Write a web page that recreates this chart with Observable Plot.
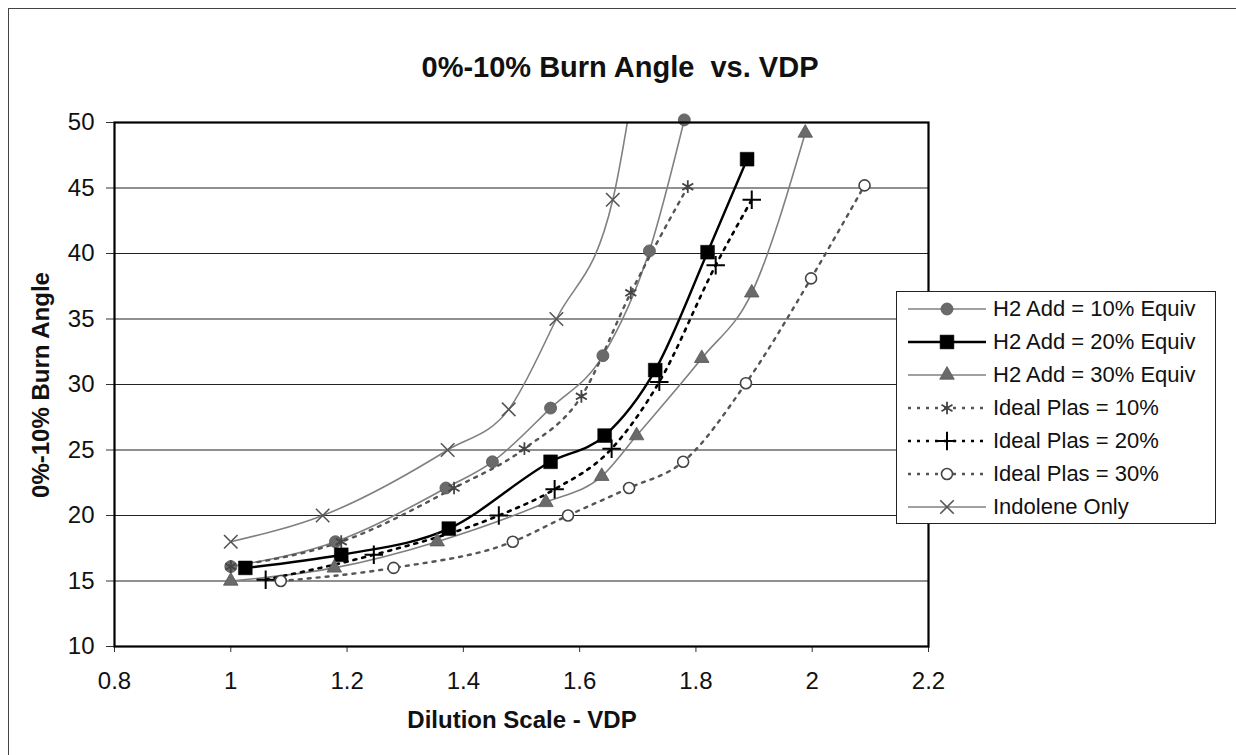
<!DOCTYPE html>
<html>
<head>
<meta charset="utf-8">
<script src="https://cdn.jsdelivr.net/npm/d3@7"></script>
<script src="https://cdn.jsdelivr.net/npm/@observablehq/plot@0.6"></script>
<style>
  html, body { margin: 0; padding: 0; background: #fff; }
  #wrap { position: relative; width: 1236px; height: 755px; overflow: hidden; font-family: "Liberation Sans", Arial, sans-serif; }
  #border { position: absolute; left: 8px; top: 8px; width: 1240px; height: 760px; border-left: 1.5px solid #444; border-top: 1.5px solid #444; }
  #title { position: absolute; left: 320px; width: 600px; top: 50px; line-height: 34px; text-align: center; font-weight: bold; font-size: 29px; color: #111; }
  #ylab { position: absolute; left: 41px; top: 385px; transform: translate(-50%, -50%) rotate(-90deg); white-space: nowrap; font-weight: bold; font-size: 24px; color: #111; }
  #xlab { position: absolute; left: 222px; width: 600px; top: 705px; line-height: 30px; text-align: center; font-weight: bold; font-size: 24px; color: #111; }
  #legend { position: absolute; left: 896px; top: 291px; width: 320px; box-sizing: border-box; border: 1.5px solid #222; background: #fff; padding: 0; }
  .row { display: flex; align-items: center; height: 33px; font-size: 22px; color: #111; white-space: nowrap; }
  .row svg { margin-left: 10px; margin-right: 6px; }
  #chart { position: absolute; left: 0; top: 0; }
</style>
</head>
<body>
<div id="wrap">
  <div id="border"></div>
  <div id="chart"></div>
  <div id="title">0%-10% Burn Angle&nbsp; vs. VDP</div>
  <div id="ylab">0%-10% Burn Angle</div>
  <div id="xlab">Dilution Scale - VDP</div>
  <div id="legend"></div>
</div>
<script>
// ---- data ----
const xTicks = [0.8, 1, 1.2, 1.4, 1.6, 1.8, 2, 2.2];
const yTicks = [10, 15, 20, 25, 30, 35, 40, 45, 50];

const xH10 = [1.0, 1.18, 1.37, 1.45, 1.55, 1.64, 1.72, 1.78];
const yH10 = [16.1, 18.0, 22.1, 24.1, 28.2, 32.2, 40.2, 50.2];

const xH20 = [1.025, 1.19, 1.375, 1.55, 1.643, 1.73, 1.82, 1.888];
const yH20 = [16.0, 17.0, 19.0, 24.1, 26.1, 31.1, 40.1, 47.2];

const xH30 = [1.0, 1.178, 1.355, 1.542, 1.638, 1.698, 1.81, 1.896, 1.988];
const yH30 = [15.0, 16.0, 18.0, 21.0, 23.0, 26.1, 32.0, 37.0, 49.2];

const xP10 = [1.0, 1.19, 1.384, 1.505, 1.603, 1.688, 1.786];
const yP10 = [16.1, 18.0, 22.1, 25.1, 29.1, 37.0, 45.1];

const xP20 = [1.06, 1.246, 1.461, 1.557, 1.655, 1.737, 1.834, 1.896];
const yP20 = [15.1, 17.0, 20.0, 22.0, 25.1, 30.2, 39.1, 44.1];

const xP30 = [1.086, 1.28, 1.485, 1.58, 1.685, 1.778, 1.886, 1.998, 2.09];
const yP30 = [15.0, 16.0, 18.0, 20.0, 22.1, 24.1, 30.1, 38.1, 45.2];

const xInd = [1.0, 1.158, 1.373, 1.478, 1.56, 1.657, 1.71];
const yInd = [18.0, 20.0, 25.0, 28.1, 35.0, 44.1, 58.0];

const seriesNames = [
  "H2 Add = 10% Equiv", "H2 Add = 20% Equiv", "H2 Add = 30% Equiv",
  "Ideal Plas = 10%", "Ideal Plas = 20%", "Ideal Plas = 30%", "Indolene Only"
];

// ---- styles ----
const styles = [
  {x: xH10, y: yH10, stroke: "#808080", sw: 1.6, dash: null, symbol: "circle", fill: "#6a6a6a", mstroke: "#555", r: 6, msw: 0.8},
  {x: xH20, y: yH20, stroke: "#000", sw: 2.4, dash: null, symbol: "square", fill: "#000", mstroke: "#000", r: 7.8, msw: 0.5},
  {x: xH30, y: yH30, stroke: "#808080", sw: 1.6, dash: null, symbol: "triangle", fill: "#6a6a6a", mstroke: "#555", r: 5.4, msw: 0.8},
  {x: xP10, y: yP10, stroke: "#555", sw: 2.4, dash: "3,6", symbol: "asterisk", fill: "none", mstroke: "#444", r: 6, msw: 1.8},
  {x: xP20, y: yP20, stroke: "#000", sw: 2.6, dash: "3,6", symbol: "plus", fill: "none", mstroke: "#000", r: 6, msw: 2},
  {x: xP30, y: yP30, stroke: "#555", sw: 2.4, dash: "3,6", symbol: "circle", fill: "#fff", mstroke: "#444", r: 5.5, msw: 1.6},
  {x: xInd, y: yInd, stroke: "#808080", sw: 1.6, dash: null, symbol: "times", fill: "none", mstroke: "#555", r: 6.2, msw: 1.6}
];

const series = styles.map((s, i) => ({
  ...s, name: seriesNames[i],
  data: s.x.map((xv, j) => ({x: xv, y: s.y[j]}))
}));

const marks = [
  Plot.gridY(yTicks, {stroke: "#222", strokeOpacity: 1, strokeWidth: 1.1})
];
for (const s of series) {
  marks.push(Plot.line(s.data, {x: "x", y: "y", stroke: s.stroke, strokeWidth: s.sw,
    strokeDasharray: s.dash, curve: "monotone-x", clip: true}));
}
for (const s of series) {
  marks.push(Plot.dot(s.data, {x: "x", y: "y", symbol: () => s.symbol, r: s.r,
    filter: d => d.y <= 50.5,
    fill: s.fill, stroke: s.mstroke, strokeWidth: s.msw}));
}
marks.push(
  Plot.axisX(xTicks, {tickSize: 6, tickPadding: 19, fontSize: 24, label: null, stroke: "#333",
    tickFormat: d => String(+d.toFixed(1)), fill: "#111"}),
  Plot.axisY(yTicks, {tickSize: 8, tickPadding: 12, fontSize: 24, label: null, stroke: "#333", fill: "#111"}),
  Plot.frame({stroke: "#000", strokeWidth: 2.2})
);

const chart = Plot.plot({
  width: 1236, height: 755,
  marginLeft: 114, marginRight: 308, marginTop: 122, marginBottom: 109,
  x: {type: "linear", domain: [0.8, 2.2]},
  y: {type: "linear", domain: [10, 50]},
  style: {fontFamily: "'Liberation Sans', Arial, sans-serif", fontSize: "24px", background: "transparent", overflow: "visible"},
  marks
});
document.getElementById("chart").appendChild(chart);

// ---- legend ----
const legend = document.getElementById("legend");
for (const s of series) {
  const row = document.createElement("div");
  row.className = "row";
  const W = 80, H = 20;
  const svg = d3.create("svg").attr("width", W).attr("height", H);
  svg.append("line").attr("x1", 1).attr("x2", W - 1).attr("y1", H / 2).attr("y2", H / 2)
    .attr("stroke", s.stroke).attr("stroke-width", s.sw).attr("stroke-dasharray", s.dash);
  const sym = {circle: d3.symbolCircle, square: d3.symbolSquare, triangle: d3.symbolTriangle,
    asterisk: d3.symbolAsterisk, plus: d3.symbolPlus, times: d3.symbolTimes}[s.symbol];
  svg.append("path").attr("transform", `translate(${W / 2},${H / 2})`)
    .attr("d", d3.symbol(sym, Math.PI * s.r * s.r)())
    .attr("fill", s.fill).attr("stroke", s.mstroke).attr("stroke-width", s.msw);
  row.appendChild(svg.node());
  const t = document.createElement("span");
  t.textContent = s.name;
  row.appendChild(t);
  legend.appendChild(row);
}
</script>
</body>
</html>
